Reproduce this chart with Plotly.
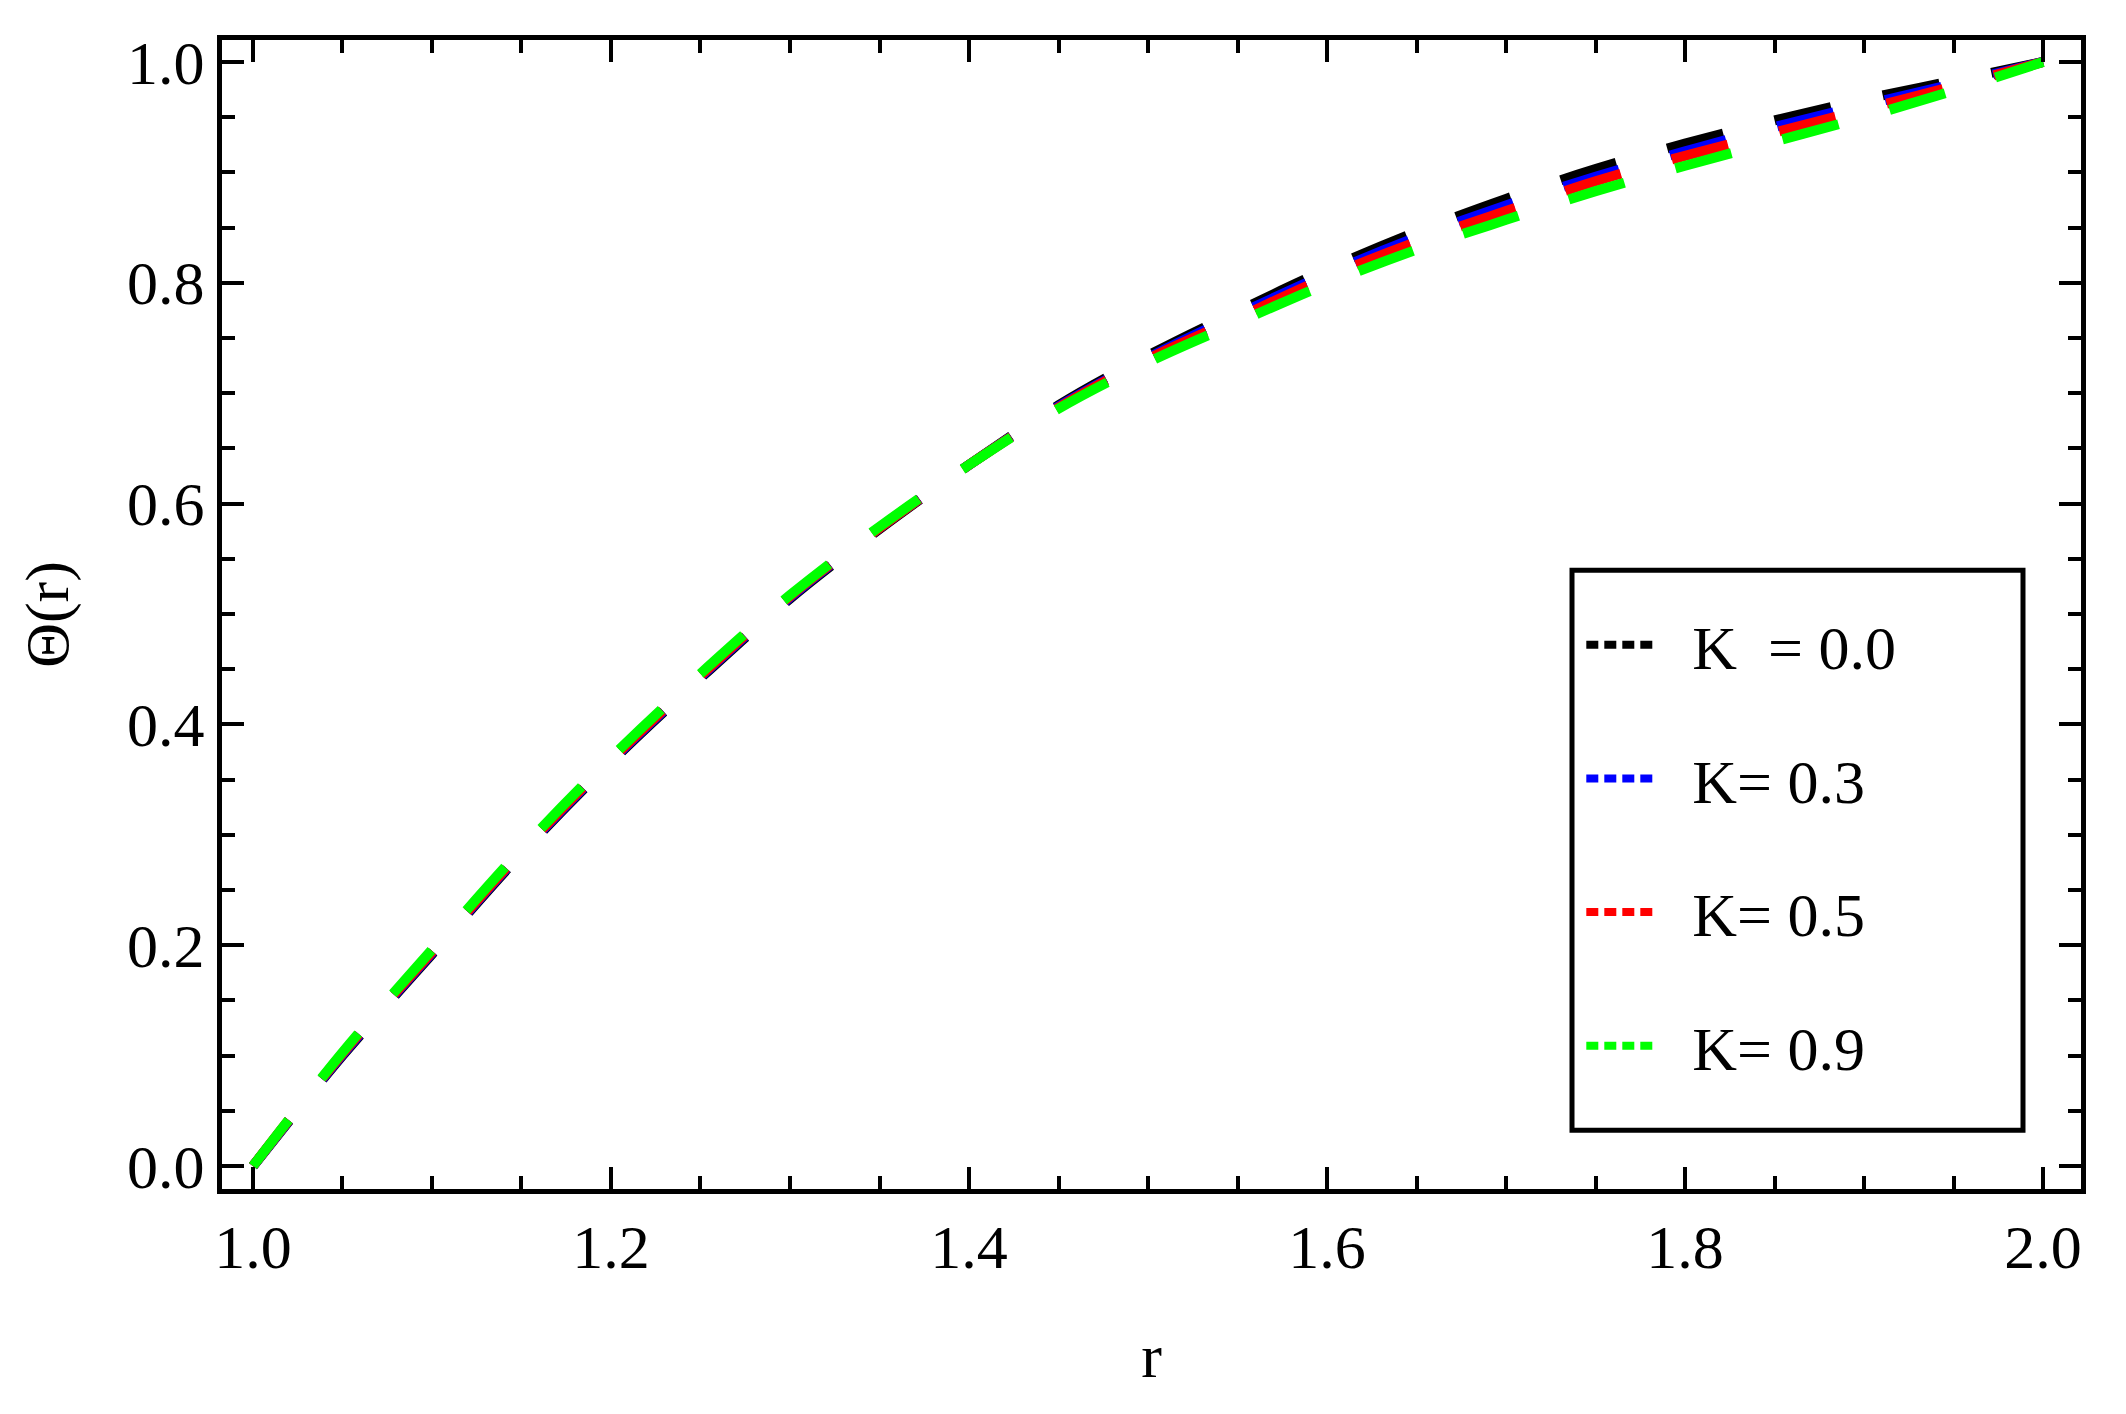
import plotly.graph_objects as go

# ---- data ----
r = [1.00, 1.05, 1.10, 1.15, 1.20, 1.25, 1.30, 1.35, 1.40, 1.45, 1.50,
     1.55, 1.60, 1.65, 1.70, 1.75, 1.80, 1.85, 1.90, 1.95, 2.00]

theta_K00 = [0.000, 0.100, 0.192, 0.283, 0.366, 0.442, 0.514, 0.577, 0.635, 0.689, 0.734,
             0.774, 0.812, 0.846, 0.876, 0.903, 0.926, 0.947, 0.966, 0.983, 1.000]
theta_K03 = [0.000, 0.101, 0.193, 0.284, 0.367, 0.443, 0.515, 0.578, 0.635, 0.688, 0.732,
             0.771, 0.808, 0.841, 0.870, 0.896, 0.919, 0.941, 0.961, 0.980, 1.000]
theta_K05 = [0.000, 0.102, 0.194, 0.285, 0.368, 0.444, 0.516, 0.578, 0.635, 0.687, 0.731,
             0.768, 0.805, 0.837, 0.865, 0.892, 0.915, 0.936, 0.957, 0.978, 1.000]
theta_K09 = [0.000, 0.103, 0.196, 0.287, 0.370, 0.446, 0.517, 0.579, 0.635, 0.686, 0.728,
             0.764, 0.799, 0.830, 0.857, 0.883, 0.906, 0.928, 0.950, 0.974, 1.000]

series = [theta_K00, theta_K03, theta_K05, theta_K09]
labels = ["K  = 0.0", "K= 0.3", "K= 0.5", "K= 0.9"]
colors = ["#000000", "#0000FF", "#FF0000", "#00FF00"]

x_ticks = [1.0, 1.2, 1.4, 1.6, 1.8, 2.0]
y_ticks = [0.0, 0.2, 0.4, 0.6, 0.8, 1.0]

FONT = "Liberation Serif"
FS = 62
NB = "\u00a0"

fig = go.Figure()
for ys, col in zip(series, colors):
    fig.add_trace(go.Scatter(
        x=r, y=ys, mode="lines", line=dict(color=col, width=10, dash="58px,53px", shape="spline"),
        showlegend=False, hoverinfo="skip"))
for i, (lab, col) in enumerate(zip(labels, colors)):
    fig.add_trace(go.Scatter(
        x=[None], y=[None], mode="lines", name=NB * 2 + lab, legendgroup=f"g{i}",
        line=dict(color=col, width=8, dash="12px,6px")))

axis_common = dict(
    showline=True, linecolor="black", linewidth=5, mirror="allticks",
    ticks="inside", ticklen=22, tickwidth=4, tickcolor="black",
    showgrid=False, zeroline=False,
    tickfont=dict(family=FONT, size=FS, color="black"),
    minor=dict(ticks="inside", ticklen=13, tickwidth=4, tickcolor="black", dtick=0.05, showgrid=False),
)

fig.update_xaxes(range=[0.9827, 2.0212], tickvals=x_ticks, ticktext=[f"{v:.1f}" for v in x_ticks],
                 title=dict(text="r", font=dict(family=FONT, size=FS, color="black"), standoff=55),
                 **axis_common)
fig.update_yaxes(range=[-0.0208, 1.0199], tickvals=y_ticks, ticktext=[f"{v:.1f}" for v in y_ticks],
                 title=dict(text="Θ(r)", font=dict(family=FONT, size=FS, color="black"), standoff=40),
                 **axis_common)

# legend frame
fig.add_shape(type="rect", xref="paper", yref="paper",
              x0=0.7262, x1=0.9688, y0=0.0512, y1=0.5386,
              line=dict(color="black", width=5), fillcolor="rgba(0,0,0,0)", layer="above")

fig.update_layout(
    width=2126, height=1414,
    margin=dict(l=222, r=45, t=40, b=225),
    paper_bgcolor="white", plot_bgcolor="white",
    legend=dict(x=0.7312, y=0.5143, xanchor="left", yanchor="top",
                borderwidth=0, bgcolor="rgba(0,0,0,0)",
                font=dict(family=FONT, size=FS, color="black"),
                tracegroupgap=50, itemwidth=70),
)

fig.write_html("out.html", config={"displayModeBar": False},
               post_script="document.body.style.margin='0';document.body.style.overflow='hidden';")
